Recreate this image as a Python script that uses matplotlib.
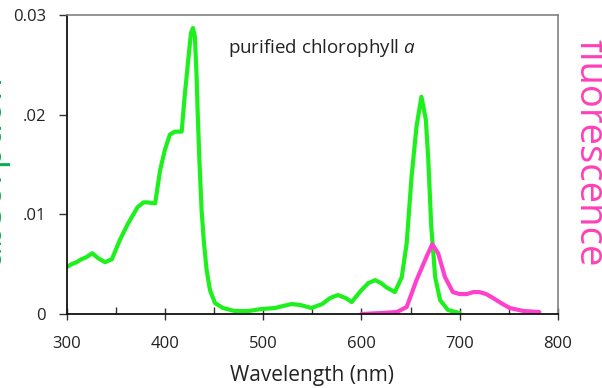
import matplotlib
matplotlib.use("Agg")
import matplotlib.pyplot as plt
from matplotlib.ticker import MultipleLocator, FixedFormatter, FixedLocator

# absorption spectrum
abs_nm = [300, 305, 310, 315, 320, 326, 332, 339, 346, 354, 362, 372, 378, 382,
          390, 395, 400, 405, 410, 417, 420, 423.7, 426.5, 428.5, 430.5, 432.2,
          433.2, 435, 437.3, 439.7, 442.4, 445.8, 450.9, 459, 471, 485, 498, 512,
          520, 529, 538, 549, 560, 568, 576, 584, 590, 600, 607, 614, 620, 625,
          634, 641, 646, 651, 656, 661, 665.5, 668, 671, 675, 680, 688, 700]
abs_val = [0.0047, 0.0050, 0.0052, 0.0055, 0.0057, 0.0061, 0.0056, 0.0052, 0.0055,
           0.0074, 0.0090, 0.0107, 0.0112, 0.0112, 0.0111, 0.0144, 0.0165, 0.0180,
           0.0183, 0.0183, 0.0218, 0.0255, 0.0282, 0.0287, 0.0278, 0.0238,
           0.0205, 0.0155, 0.0104, 0.0071, 0.0044, 0.0024, 0.0011, 0.0006, 0.0003,
           0.0003, 0.0005, 0.0006, 0.0008, 0.0010, 0.0009, 0.0006, 0.0010, 0.0016,
           0.0019, 0.0016, 0.0012, 0.0024, 0.0031, 0.0034, 0.0031, 0.0027, 0.0022,
           0.0037, 0.0071, 0.0138, 0.0188, 0.0218, 0.0195, 0.0155, 0.0088, 0.0037,
           0.0014, 0.0004, 0.0001]

# fluorescence spectrum
fl_nm = [600, 620, 636, 646, 656, 666, 672, 678, 685, 693, 700, 707, 714, 720,
         727, 734, 742, 751, 765, 781]
fl_val = [0.0, 0.0001, 0.0002, 0.0007, 0.0034, 0.0057, 0.0070, 0.0061, 0.0037,
          0.0022, 0.0020, 0.0020, 0.0022, 0.0022, 0.0020, 0.0016, 0.0011, 0.0006,
          0.0003, 0.0002]

yticks = [0, 0.01, 0.02, 0.03]
ytick_labels = ["0", ".01", ".02", "0.03"]
xticks = [300, 400, 500, 600, 700, 800]

FONT = "Open Sans"
plt.rcParams.update({
    "font.family": [FONT, "DejaVu Sans"],
    "mathtext.fontset": "custom",
    "mathtext.rm": FONT,
    "mathtext.it": FONT + ":italic",
})

fig = plt.figure(figsize=(6.02, 3.88), dpi=100)
ax = fig.add_axes([0.1108, 0.1907, 0.8161, 0.7706])

ax.plot(abs_nm, abs_val, color="#1EF01E", lw=3, solid_capstyle="round",
        solid_joinstyle="round")
ax.plot(fl_nm, fl_val, color="#FF40CC", lw=3, solid_capstyle="round",
        solid_joinstyle="round")

ax.set_xlim(300, 800)
ax.set_ylim(0, 0.03)
ax.set_xticks(xticks)
ax.xaxis.set_minor_locator(MultipleLocator(50))
ax.yaxis.set_major_locator(FixedLocator(yticks))
ax.yaxis.set_major_formatter(FixedFormatter(ytick_labels))

ax.tick_params(axis="x", which="major", direction="inout", length=9, width=1,
               color="#333333", labelsize=12, labelcolor="#222222", pad=11)
ax.tick_params(axis="x", which="minor", direction="in", length=5, width=1,
               color="#333333")
ax.tick_params(axis="y", which="major", direction="out", length=6, width=1,
               color="#333333", labelsize=12, labelcolor="#222222", pad=9)

for side in ("left", "bottom"):
    ax.spines[side].set_color("#111111")
    ax.spines[side].set_linewidth(1.3)
for side in ("top", "right"):
    ax.spines[side].set_color("#808080")
    ax.spines[side].set_linewidth(1.2)

ax.set_xlabel("Wavelength (nm)", fontsize=15, color="#222222", labelpad=10)

ax.text(464, 0.0267, r"purified chlorophyll $a$", fontsize=13.5,
        color="#222222", va="center", ha="left")

fig.text(9.5 / 602, 1 - 170 / 388, "absorption", rotation=90, color="#00B050",
         fontsize=27, ha="right", va="center")
fig.text(571 / 602, 1 - 153 / 388, "fluorescence", rotation=270,
         color="#FF40B8", fontsize=27.5, ha="left", va="center")

fig.savefig("out.png", dpi=100)
